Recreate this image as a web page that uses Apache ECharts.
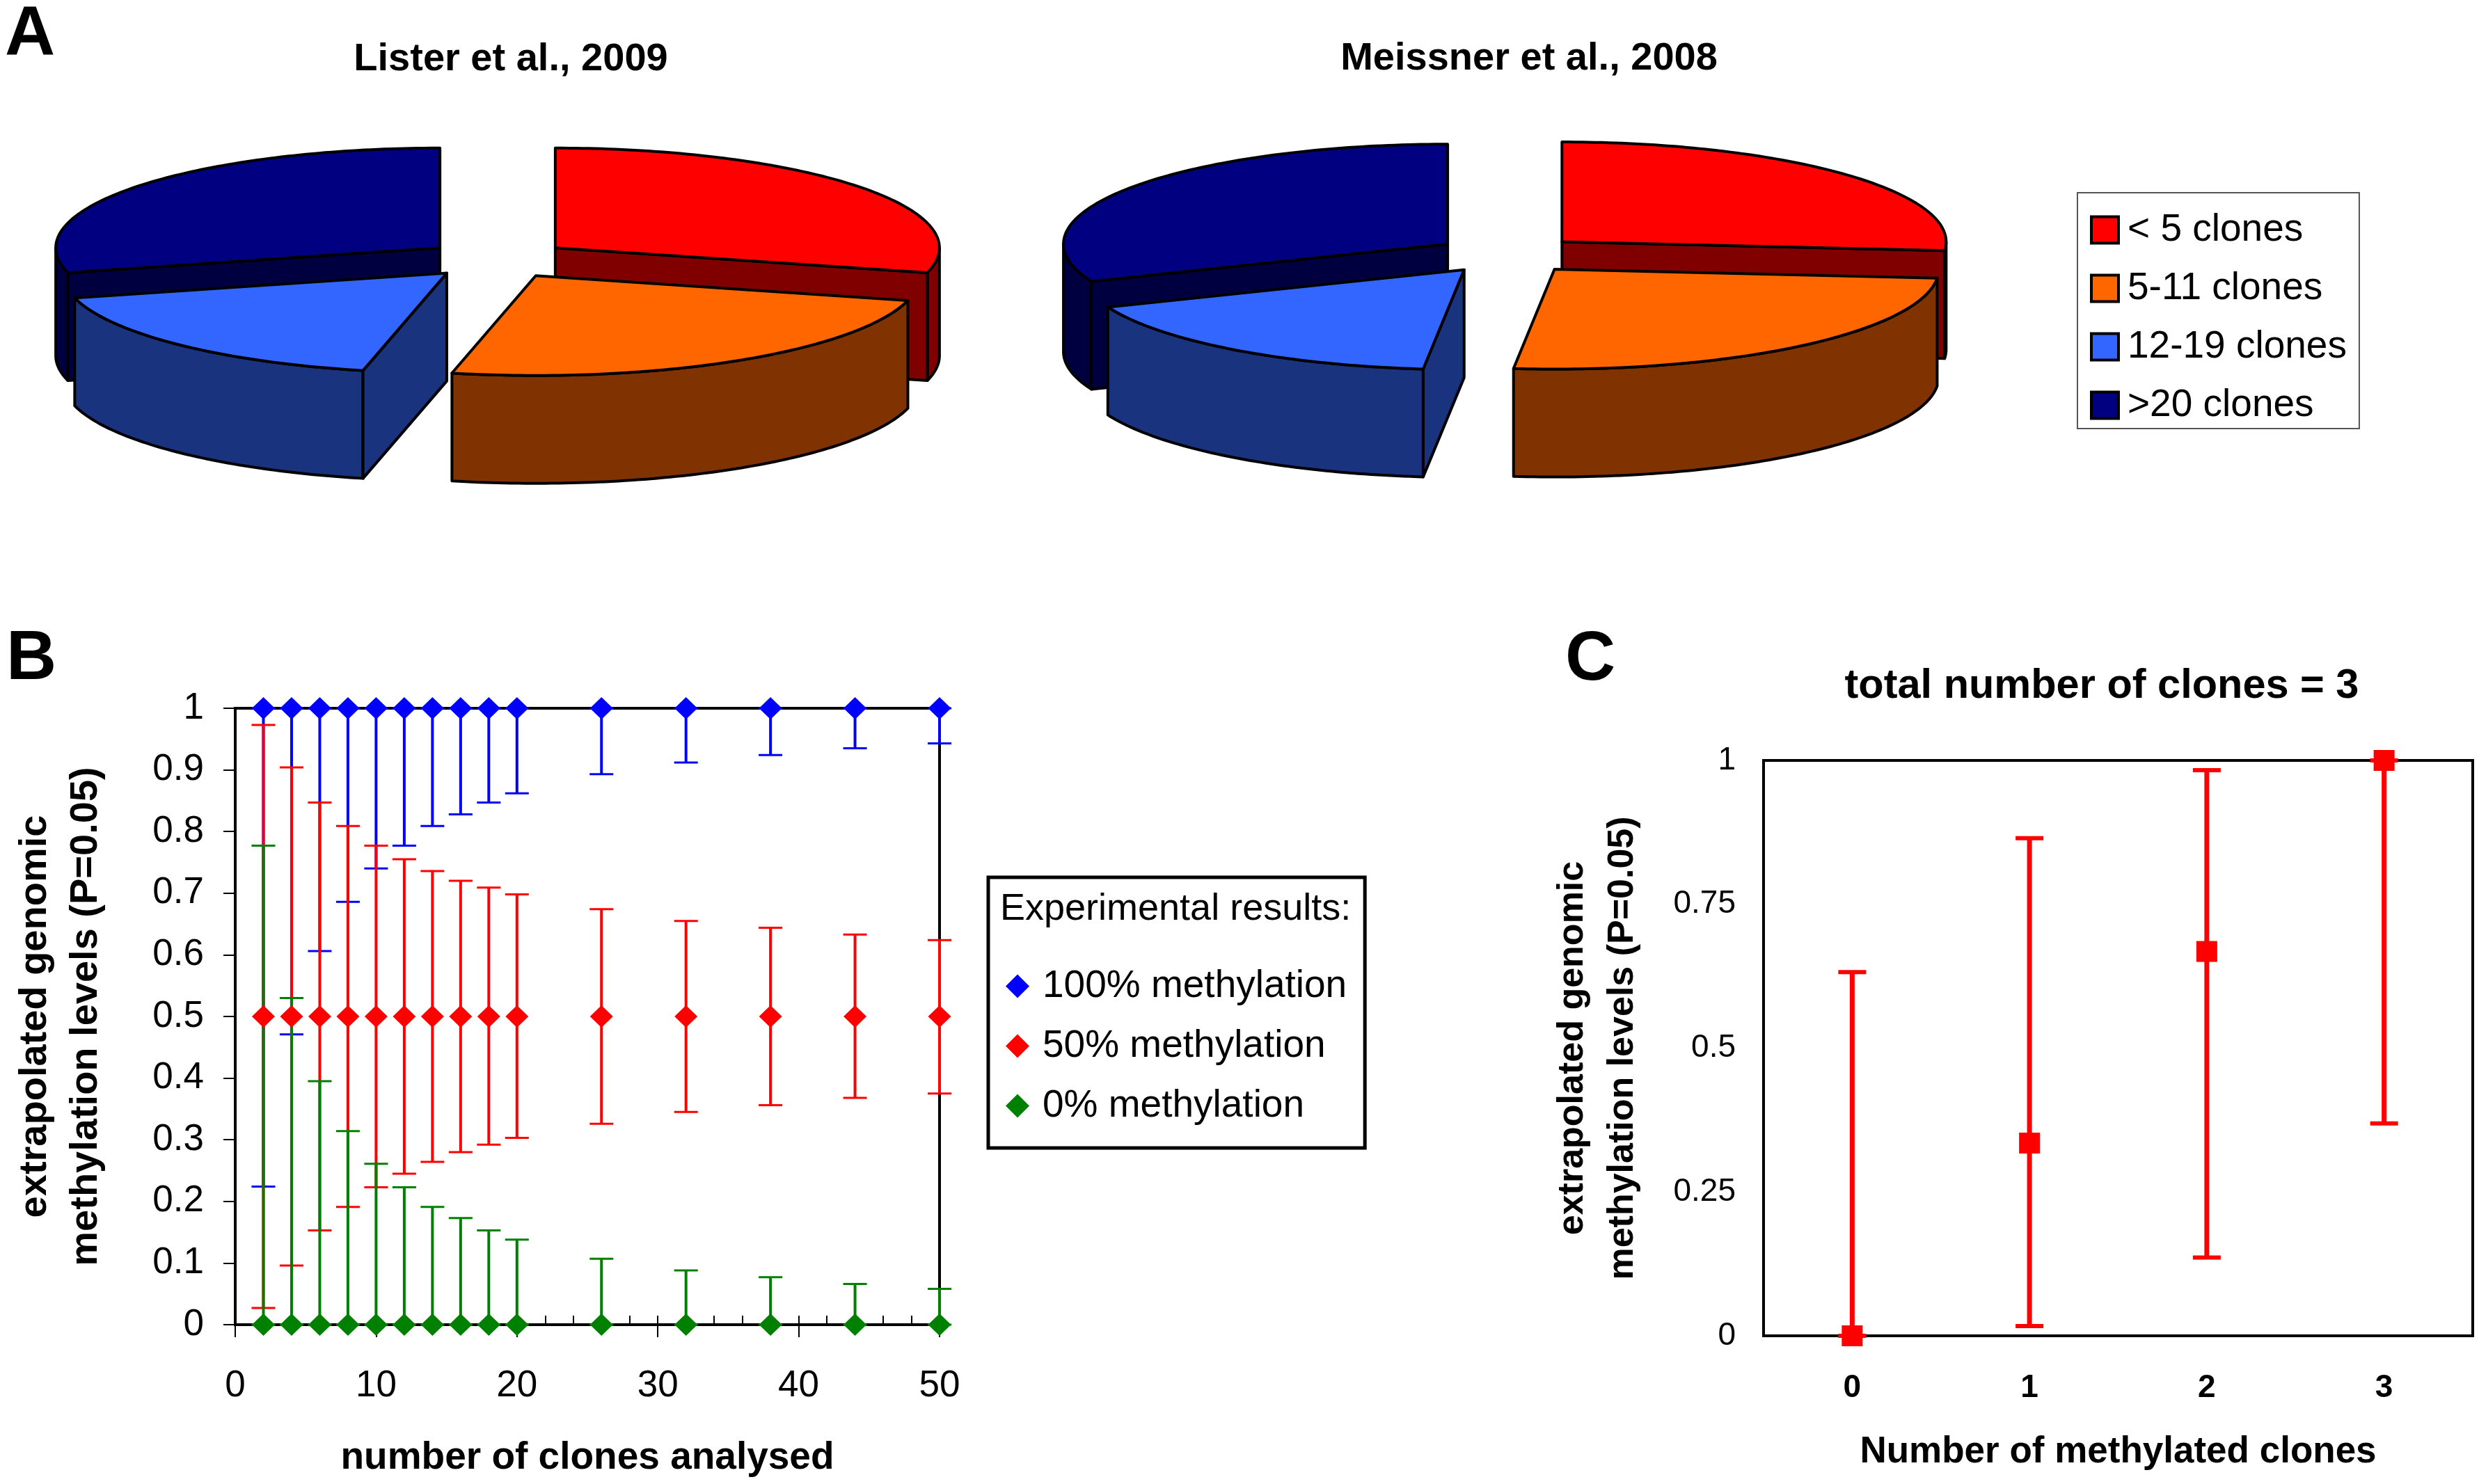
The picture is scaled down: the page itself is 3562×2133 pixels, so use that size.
<!DOCTYPE html>
<html><head><meta charset="utf-8">
<style>html,body{margin:0;padding:0;background:#fff}#c{width:3562px;height:2133px}</style>
<script src="https://cdn.jsdelivr.net/npm/echarts@6/dist/echarts.min.js"></script>
</head><body><div id="c"></div>
<script>
// ---- Panel A data (percent of CpGs per coverage class)
const cloneLabels = ['< 5 clones', '5-11 clones', '12-19 clones', '>20 clones'];
const listerValues = [29, 24.5, 17.5, 29];
const meissnerValues = [26.4, 25.3, 17.2, 31.1];
const studyTitles = ['Lister et al., 2009', 'Meissner et al., 2008'];

// ---- Panel B data
const clonesAnalysed = [2, 4, 6, 8, 10, 12, 14, 16, 18, 20, 26, 32, 38, 44, 50];
const full100Mean = [1, 1, 1, 1, 1, 1, 1, 1, 1, 1, 1, 1, 1, 1, 1];
const full100Low = [0.224, 0.471, 0.606, 0.686, 0.74, 0.777, 0.809, 0.828, 0.847, 0.862, 0.893, 0.912, 0.924, 0.935, 0.943];
const half50Mean = [0.5, 0.5, 0.5, 0.5, 0.5, 0.5, 0.5, 0.5, 0.5, 0.5, 0.5, 0.5, 0.5, 0.5, 0.5];
const half50High = [0.973, 0.904, 0.847, 0.809, 0.777, 0.755, 0.736, 0.72, 0.709, 0.698, 0.674, 0.655, 0.644, 0.633, 0.624];
const half50Low = [0.027, 0.096, 0.153, 0.191, 0.223, 0.245, 0.264, 0.28, 0.292, 0.303, 0.326, 0.345, 0.356, 0.368, 0.375];
const none0Mean = [0, 0, 0, 0, 0, 0, 0, 0, 0, 0, 0, 0, 0, 0, 0];
const none0High = [0.777, 0.53, 0.395, 0.314, 0.261, 0.223, 0.191, 0.173, 0.153, 0.138, 0.107, 0.088, 0.077, 0.066, 0.058];
const methylationLabels = ['100% methylation', '50% methylation', '0% methylation'];

// ---- Panel C data
const methylatedClones = ['0', '1', '2', '3'];
const cMean = [0, 0.335, 0.668, 1];
const cLow = [0, 0.017, 0.136, 0.369];
const cHigh = [0.632, 0.865, 0.983, 1];

// ---- Styling
const FONT = '"Liberation Sans", Arial, sans-serif';
const topColors = ['#ff0000', '#ff6600', '#3366ff', '#000080'];
const sideColors = ['#800000', '#803300', '#1a337f', '#000040'];
const pieLayouts = [
  { cx: 715, cy: 373, rx: 552, ry: 143.5, depth: 155, explode: 0.19 },
  { cx: 2167, cy: 366, rx: 552, ry: 143.5, depth: 155, explode: 0.19 }
];
const studies = [listerValues, meissnerValues];
const RAD = Math.PI / 180;

function renderSlice(k) {
  return function (params, api) {
    const study = params.dataIndex;
    const vals = studies[study];
    const L = pieLayouts[study];
    const total = vals.reduce((a, b) => a + b, 0);
    let before = 0;
    for (let i = 0; i < k; i++) before += vals[i];
    const t0 = before / total * 360;
    const t1 = (before + api.value(0)) / total * 360;
    const mid = (t0 + t1) / 2;
    const ax = L.cx + L.explode * L.rx * Math.sin(mid * RAD);
    const ay = L.cy - L.explode * L.ry * Math.cos(mid * RAD);
    const pt = (t, dz) => [ax + L.rx * Math.sin(t * RAD), ay - L.ry * Math.cos(t * RAD) + (dz || 0)];
    const base = Math.round(-Math.cos(mid * RAD) * 100) + 200;
    const style = fill => ({ fill: fill, stroke: '#000', lineWidth: 4, lineJoin: 'round' });
    const children = [];
    // outer wall, visible on the front half only
    const w0 = Math.max(t0, 90), w1 = Math.min(t1, 270);
    if (w1 > w0) {
      const pts = [];
      for (let t = w0; t < w1; t += 1) pts.push(pt(t));
      pts.push(pt(w1));
      for (let t = w1; t > w0; t -= 1) pts.push(pt(t, L.depth));
      pts.push(pt(w0, L.depth));
      children.push({ type: 'polygon', z2: base, shape: { points: pts }, style: style(sideColors[k]) });
    }
    // cut faces
    const cut = t => [[ax, ay], pt(t), pt(t, L.depth), [ax, ay + L.depth]];
    if (Math.sin(t0 * RAD) < -1e-6) children.push({ type: 'polygon', z2: base + 1, shape: { points: cut(t0) }, style: style(sideColors[k]) });
    if (Math.sin(t1 * RAD) > 1e-6) children.push({ type: 'polygon', z2: base + 1, shape: { points: cut(t1) }, style: style(sideColors[k]) });
    // top face
    const top = [[ax, ay]];
    for (let t = t0; t < t1; t += 1) top.push(pt(t));
    top.push(pt(t1));
    children.push({ type: 'polygon', z2: base + 2, shape: { points: top }, style: style(topColors[k]) });
    return { type: 'group', children: children };
  };
}

function renderBars(capHalf, width, capWidth, color) {
  return function (params, api) {
    const x = api.value(0);
    const a = api.coord([x, api.value(1)]);
    const b = api.coord([x, api.value(2)]);
    const st = { stroke: color, lineWidth: width, fill: 'none' };
    const capSt = { stroke: color, lineWidth: capWidth, fill: 'none' };
    return { type: 'group', children: [
      { type: 'line', shape: { x1: a[0], y1: a[1], x2: b[0], y2: b[1] }, style: st },
      { type: 'line', shape: { x1: a[0] - capHalf, y1: a[1], x2: a[0] + capHalf, y2: a[1] }, style: capSt },
      { type: 'line', shape: { x1: b[0] - capHalf, y1: b[1], x2: b[0] + capHalf, y2: b[1] }, style: capSt }
    ] };
  };
}

const zip3 = (xs, lo, hi) => xs.map((x, i) => [x, lo[i], hi[i]]);
const zip2 = (xs, ys) => xs.map((x, i) => [x, ys[i]]);

function bigTitle(text, x, y, size, weight) {
  return { text: text, left: x, top: y, padding: 0, textAlign: 'center', textVerticalAlign: 'middle',
    textStyle: { fontFamily: FONT, fontSize: size, fontWeight: weight || 'bold', color: '#000' } };
}

const option = {
  backgroundColor: '#fff',
  animation: false,
  textStyle: { fontFamily: FONT, color: '#000' },
  title: [
    bigTitle('A', 43, 51, 100),
    bigTitle('B', 45, 948, 100),
    bigTitle('C', 2285, 949, 100),
    bigTitle(studyTitles[0], 734, 86, 56),
    bigTitle(studyTitles[1], 2197, 85, 56),
    bigTitle('total number of clones = 3', 3020, 987, 59.5),
    { text: 'Experimental results:', left: 1437, top: 1307, padding: 0, textAlign: 'left', textVerticalAlign: 'middle',
      textStyle: { fontFamily: FONT, fontSize: 54, fontWeight: 'normal', color: '#000' } }
  ],
  legend: [
    { data: cloneLabels, orient: 'vertical', left: 2985, top: 277, padding: [26, 18, 6, 18], itemGap: 29,
      itemWidth: 39, itemHeight: 38, icon: 'rect', selectedMode: false, borderColor: '#555', borderWidth: 2, backgroundColor: '#fff',
      itemStyle: { borderColor: '#000', borderWidth: 4 },
      textStyle: { fontFamily: FONT, fontSize: 55, color: '#000', padding: [0, 0, 0, 8] } },
    { data: methylationLabels, orient: 'vertical', left: 1420, top: 1261, padding: [129, 26, 33, 25], itemGap: 31,
      itemWidth: 34, itemHeight: 34, icon: 'diamond', selectedMode: false, borderColor: '#000', borderWidth: 5, backgroundColor: '#fff',
      textStyle: { fontFamily: FONT, fontSize: 55, color: '#000', padding: [0, 0, 0, 14] } }
  ],
  grid: [
    { left: 338, top: 1018, width: 1012, height: 886, outerBoundsMode: 'none', show: true, borderColor: '#000', borderWidth: 4, backgroundColor: 'transparent', containLabel: false },
    { left: 2534, top: 1093, width: 1019, height: 827, outerBoundsMode: 'none', show: true, borderColor: '#000', borderWidth: 4, backgroundColor: 'transparent', containLabel: false }
  ],
  xAxis: [
    { type: 'value', gridIndex: 0, min: 0, max: 50, interval: 10, position: 'bottom', splitLine: { show: false },
      axisLine: { lineStyle: { color: '#000', width: 4 } },
      axisTick: { length: 18, lineStyle: { color: '#000', width: 2 } },
      axisLabel: { fontSize: 53, color: '#000', margin: 62, fontFamily: FONT },
      name: 'number of clones analysed', nameLocation: 'middle', nameGap: 164,
      nameTextStyle: { fontSize: 55, fontWeight: 'bold', color: '#000', fontFamily: FONT } },
    { type: 'value', gridIndex: 0, min: 0, max: 50, interval: 2, position: 'bottom', splitLine: { show: false },
      axisLine: { show: false },
      axisTick: { inside: true, length: 13, lineStyle: { color: '#000', width: 2 } },
      axisLabel: { show: false } },
    { type: 'category', gridIndex: 1, data: methylatedClones, position: 'bottom', boundaryGap: true, splitLine: { show: false },
      axisLine: { lineStyle: { color: '#000', width: 4 } },
      axisTick: { length: 14, alignWithLabel: false, lineStyle: { color: '#000', width: 2 } },
      axisLabel: { fontSize: 46, fontWeight: 'bold', color: '#000', margin: 52, fontFamily: FONT },
      name: 'Number of methylated clones', nameLocation: 'middle', nameGap: 141,
      nameTextStyle: { fontSize: 53, fontWeight: 'bold', color: '#000', fontFamily: FONT } }
  ],
  yAxis: [
    { type: 'value', gridIndex: 0, min: 0, max: 1, interval: 0.1, position: 'left', splitLine: { show: false },
      axisLine: { lineStyle: { color: '#000', width: 4 } },
      axisTick: { length: 17, lineStyle: { color: '#000', width: 2 } },
      axisLabel: { fontSize: 53, color: '#000', margin: 45, padding: [10, 0, 0, 0], fontFamily: FONT },
      name: 'extrapolated genomic\nmethylation levels (P=0.05)', nameLocation: 'middle', nameGap: 178, nameRotate: 90,
      nameTextStyle: { fontSize: 56, fontWeight: 'bold', color: '#000', lineHeight: 73, fontFamily: FONT } },
    { type: 'value', gridIndex: 1, min: 0, max: 1, interval: 0.25, position: 'left', splitLine: { show: false },
      axisLine: { lineStyle: { color: '#000', width: 4 } },
      axisTick: { length: 14, lineStyle: { color: '#000', width: 2 } },
      axisLabel: { fontSize: 46, color: '#000', margin: 40, padding: [8, 0, 0, 0], fontFamily: FONT },
      name: 'extrapolated genomic\nmethylation levels (P=0.05)', nameLocation: 'middle', nameGap: 166, nameRotate: 90,
      nameTextStyle: { fontSize: 52, fontWeight: 'bold', color: '#000', lineHeight: 72, fontFamily: FONT } }
  ],
  series: [
    // Panel A: one series per coverage class, one data item per study
    ...cloneLabels.map((name, k) => ({
      type: 'custom', name: name, coordinateSystem: 'none', silent: true,
      data: [listerValues[k], meissnerValues[k]],
      itemStyle: { color: topColors[k] },
      renderItem: renderSlice(k)
    })),
    // Panel B: confidence ranges
    { type: 'custom', name: 'range 100', xAxisIndex: 0, yAxisIndex: 0, z: 2, silent: true, clip: false,
      data: zip3(clonesAnalysed, full100Low, full100Mean), encode: { x: 0, y: [1, 2] },
      renderItem: renderBars(17, 4, 3, '#0000ff') },
    { type: 'custom', name: 'range 50', xAxisIndex: 0, yAxisIndex: 0, z: 3, silent: true, clip: false,
      data: zip3(clonesAnalysed, half50Low, half50High), encode: { x: 0, y: [1, 2] },
      renderItem: renderBars(17, 4, 3, '#ff0000') },
    { type: 'custom', name: 'range 0', xAxisIndex: 0, yAxisIndex: 0, z: 4, silent: true, clip: false,
      data: zip3(clonesAnalysed, none0Mean, none0High), encode: { x: 0, y: [1, 2] },
      renderItem: renderBars(17, 4, 3, '#008000') },
    // Panel B: experimental results
    { type: 'scatter', name: methylationLabels[0], xAxisIndex: 0, yAxisIndex: 0, z: 5, clip: false, symbol: 'diamond', symbolSize: [33, 32],
      itemStyle: { color: '#0000ff', opacity: 1 }, data: zip2(clonesAnalysed, full100Mean) },
    { type: 'scatter', name: methylationLabels[1], xAxisIndex: 0, yAxisIndex: 0, z: 6, clip: false, symbol: 'diamond', symbolSize: [33, 32],
      itemStyle: { color: '#ff0000', opacity: 1 }, data: zip2(clonesAnalysed, half50Mean) },
    { type: 'scatter', name: methylationLabels[2], xAxisIndex: 0, yAxisIndex: 0, z: 7, clip: false, symbol: 'diamond', symbolSize: [33, 32],
      itemStyle: { color: '#008000', opacity: 1 }, data: zip2(clonesAnalysed, none0Mean) },
    // Panel C
    { type: 'custom', name: 'range C', xAxisIndex: 2, yAxisIndex: 1, z: 3, silent: true, clip: false,
      data: methylatedClones.map((c, i) => [i, cLow[i], cHigh[i]]), encode: { x: 0, y: [1, 2] },
      renderItem: renderBars(20, 7, 6, '#ff0000') },
    { type: 'scatter', name: 'total number of clones = 3', xAxisIndex: 2, yAxisIndex: 1, z: 5, clip: false, symbol: 'rect', symbolSize: 30,
      itemStyle: { color: '#ff0000', opacity: 1 }, data: methylatedClones.map((c, i) => [i, cMean[i]]) }
  ]
};
const chart = echarts.init(document.getElementById('c'), null, { renderer: 'canvas', width: 3562, height: 2133 });
chart.setOption(option);
</script></body></html>
